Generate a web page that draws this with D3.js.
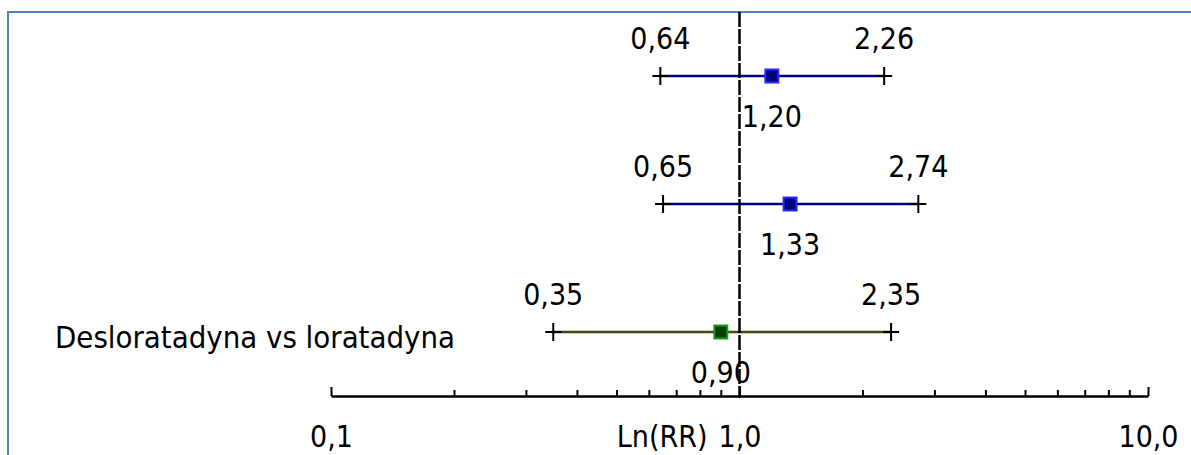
<!DOCTYPE html>
<html>
<head>
<meta charset="utf-8">
<script src="https://cdn.jsdelivr.net/npm/d3@7"></script>
<style>
  body { margin: 0; background: #fff; }
  text { font-family: "DejaVu Sans Condensed", "DejaVu Sans", sans-serif; font-stretch: condensed; font-size: 30px; fill: #000; }
</style>
</head>
<body>
<div id="chart"></div>
<script>
// forest plot data
var labels = ["", "", "Desloratadyna vs loratadyna"];
var rr = [1.20, 1.33, 0.90];
var lower = [0.64, 0.65, 0.35];
var upper = [2.26, 2.74, 2.35];
var axisTitle = "Ln(RR)";

// styles per row
var lineColors = ["#000080", "#000080", "#46460f"];
var boxFill = ["#000080", "#000080", "#004000"];
var boxStroke = ["#2a2aff", "#2a2aff", "#1f9a1f"];

var width = 1191;
var height = 455;
var axisY = 396;

var locale = d3.formatLocale({decimal: ",", thousands: " ", grouping: [3], currency: ["", ""]});
var fmt2 = locale.format(".2f");
var fmt1 = locale.format(".1f");

function isMajor(d) {
  return Math.abs(Math.log10(d) - Math.round(Math.log10(d))) < 1e-9;
}

var svg = d3.select("#chart")
  .append("svg")
  .attr("width", width)
  .attr("height", height);

// frame
svg.append("rect")
  .attr("x", 8)
  .attr("y", 12)
  .attr("width", 1300)
  .attr("height", 600)
  .attr("fill", "none")
  .attr("stroke", "#4f81bd")
  .attr("stroke-width", 2);

var x = d3.scaleLog()
  .domain([0.1, 10])
  .range([331, 1148]);

var y = d3.scaleLinear()
  .domain([0, 2])
  .range([76, 332]);

var idx = d3.range(rr.length);

// axis
var xAxis = d3.axisBottom(x)
  .tickValues(x.ticks())
  .tickSizeInner(-6)
  .tickSizeOuter(0)
  .tickPadding(30)
  .tickFormat(function(d) { return isMajor(d) ? fmt1(d) : ""; });

var gAxis = svg.append("g")
  .attr("transform", "translate(0," + axisY + ")")
  .call(xAxis);

gAxis.attr("font-size", null).attr("font-family", null);
gAxis.select(".domain").attr("stroke", "#000").attr("stroke-width", 2.5);
gAxis.selectAll(".tick line")
  .attr("stroke", "#000")
  .attr("stroke-width", 2)
  .attr("y2", function(d) { return isMajor(d) ? -9 : -6; });
gAxis.selectAll(".tick text").attr("fill", "#000");

svg.append("text")
  .attr("x", x(1) - 32)
  .attr("y", 447)
  .attr("text-anchor", "end")
  .text(axisTitle);

// CI lines
svg.selectAll("line.ci")
  .data(idx)
  .enter()
  .append("line")
  .attr("class", "ci")
  .attr("x1", function(i) { return x(lower[i]); })
  .attr("x2", function(i) { return x(upper[i]); })
  .attr("y1", function(i) { return y(i); })
  .attr("y2", function(i) { return y(i); })
  .attr("stroke", function(i) { return lineColors[i]; })
  .attr("stroke-width", 2.5);

// caps (+ marks)
idx.forEach(function(i) {
  [lower[i], upper[i]].forEach(function(v) {
    var cx = x(v), cy = y(i);
    svg.append("line")
      .attr("x1", cx - 8).attr("x2", cx + 8)
      .attr("y1", cy).attr("y2", cy)
      .attr("stroke", "#000").attr("stroke-width", 2);
    svg.append("line")
      .attr("x1", cx).attr("x2", cx)
      .attr("y1", cy - 9).attr("y2", cy + 9)
      .attr("stroke", "#000").attr("stroke-width", 2);
  });
});

// reference line at RR = 1
svg.append("line")
  .attr("x1", x(1)).attr("x2", x(1))
  .attr("y1", 12).attr("y2", axisY + 2)
  .attr("stroke", "#000")
  .attr("stroke-width", 2.5)
  .attr("stroke-dasharray", "15,2");

// point estimates
svg.selectAll("rect.pt")
  .data(idx)
  .enter()
  .append("rect")
  .attr("class", "pt")
  .attr("x", function(i) { return x(rr[i]) - 6.5; })
  .attr("y", function(i) { return y(i) - 6.5; })
  .attr("width", 13)
  .attr("height", 13)
  .attr("fill", function(i) { return boxFill[i]; })
  .attr("stroke", function(i) { return boxStroke[i]; })
  .attr("stroke-width", 2);

// value labels
idx.forEach(function(i) {
  svg.append("text")
    .attr("x", x(lower[i]))
    .attr("y", y(i) - 27)
    .attr("text-anchor", "middle")
    .text(fmt2(lower[i]));
  svg.append("text")
    .attr("x", x(upper[i]))
    .attr("y", y(i) - 27)
    .attr("text-anchor", "middle")
    .text(fmt2(upper[i]));
  svg.append("text")
    .attr("x", x(rr[i]))
    .attr("y", y(i) + 51)
    .attr("text-anchor", "middle")
    .text(fmt2(rr[i]));
  svg.append("text")
    .attr("x", 55)
    .attr("y", y(i) + 16)
    .style("font-size", "30.8px")
    .text(labels[i]);
});
</script>
</body>
</html>
